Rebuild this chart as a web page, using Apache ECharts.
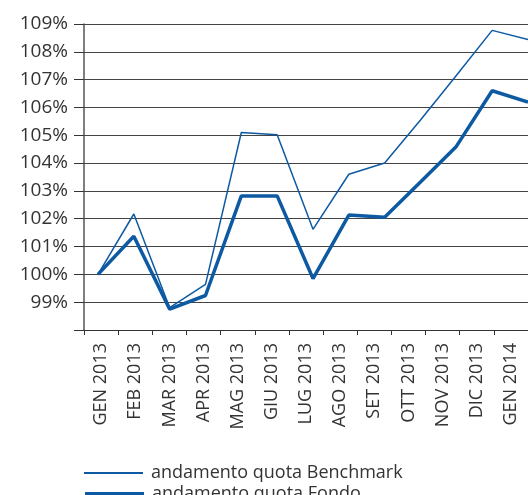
<!DOCTYPE html>
<html>
<head>
<meta charset="utf-8">
<script src="https://cdn.jsdelivr.net/npm/echarts@6/dist/echarts.min.js"></script>
<style>
  html, body { margin: 0; padding: 0; background: #fff; }
  #chart { width: 528px; height: 495px; }
</style>
</head>
<body>
<div id="chart"></div>
<script>
// mesi (asse x)
const mesi = ['GEN 2013', 'FEB 2013', 'MAR 2013', 'APR 2013', 'MAG 2013', 'GIU 2013', 'LUG 2013',
  'AGO 2013', 'SET 2013', 'OTT 2013', 'NOV 2013', 'DIC 2013', 'GEN 2014']
// valori (in %)
const benchmark = [100, 102.17, 98.8, 99.64, 105.1, 105.02, 101.62, 103.6, 104.0, 105.55, 107.15, 108.77, 108.44]
const fondo = [100, 101.37, 98.75, 99.24, 102.82, 102.82, 99.85, 102.13, 102.05, 103.32, 104.6, 106.6, 106.19]
const yMin = 98
const yMax = 109

const blu = '#0d5aa3'
const font = 'Open Sans'
const nomeBench = 'andamento quota Benchmark'
const nomeFondo = 'andamento quota Fondo'

// una legenda per serie, così ogni linea ha il suo spessore
const legenda = (nome, top, spessore) => ({
  left: 83,
  top: top,
  itemWidth: 59,
  itemHeight: 14,
  padding: 0,
  itemStyle: { opacity: 0 },
  lineStyle: { width: spessore },
  textStyle: { fontSize: 18, color: '#333', fontFamily: font, padding: [0, 0, 0, 3] },
  data: [nome]
})

const myChart = echarts.init(document.getElementById('chart'))

myChart.setOption({
  animation: false,
  textStyle: { fontFamily: font },
  legend: [
    legenda(nomeBench, 464, 2),
    legenda(nomeFondo, 485, 4)
  ],
  // grid 0: assi, etichette e griglia; grid 1: linee dei dati
  grid: [
    { left: 84, top: 24, width: 445, height: 306 },
    { left: 98, top: 24, width: 433, height: 306 }
  ],
  xAxis: [
    {
      type: 'category',
      gridIndex: 0,
      data: mesi,
      boundaryGap: true,
      axisLine: { show: true, lineStyle: { color: '#333', width: 1 } },
      axisTick: { show: true, length: 5, lineStyle: { color: '#333' } },
      axisLabel: {
        rotate: 90,
        margin: 13,
        interval: 0,
        fontSize: 18,
        color: '#333',
        fontFamily: font
      }
    },
    {
      type: 'category',
      gridIndex: 1,
      data: mesi,
      boundaryGap: false,
      show: false
    }
  ],
  yAxis: [
    {
      type: 'value',
      gridIndex: 0,
      min: yMin,
      max: yMax,
      interval: 1,
      axisLine: { show: true, lineStyle: { color: '#555', width: 1.5 } },
      axisTick: { show: true, length: 10, lineStyle: { color: '#333' } },
      axisLabel: {
        margin: 16,
        fontSize: 19,
        color: '#333',
        fontFamily: font,
        formatter: (v) => (v === yMin ? '' : v + '%')
      },
      splitLine: { show: true, lineStyle: { color: '#444', width: 1 } }
    },
    {
      type: 'value',
      gridIndex: 1,
      min: yMin,
      max: yMax,
      show: false,
      splitLine: { show: false }
    }
  ],
  series: [
    {
      name: nomeBench,
      type: 'line',
      xAxisIndex: 1,
      yAxisIndex: 1,
      data: benchmark,
      symbol: 'none',
      lineStyle: { color: blu, width: 1.5 },
      itemStyle: { color: blu }
    },
    {
      name: nomeFondo,
      type: 'line',
      xAxisIndex: 1,
      yAxisIndex: 1,
      data: fondo,
      symbol: 'none',
      lineStyle: { color: blu, width: 3.5 },
      itemStyle: { color: blu }
    }
  ]
})
</script>
</body>
</html>
